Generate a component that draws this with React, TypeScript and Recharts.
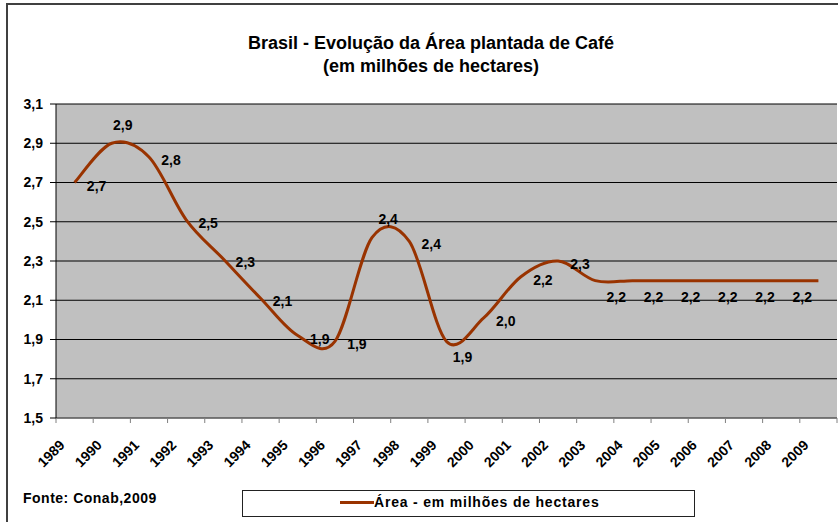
import { CartesianGrid, Customized, Legend, Line, LineChart, LabelList, XAxis, YAxis } from 'recharts';

const years = [
  '1989', '1990', '1991', '1992', '1993', '1994', '1995', '1996', '1997', '1998', '1999',
  '2000', '2001', '2002', '2003', '2004', '2005', '2006', '2007', '2008', '2009',
];
const area = [
  2.7, 2.9, 2.83, 2.51, 2.31, 2.11, 1.92, 1.89, 2.42, 2.4, 1.89,
  2.01, 2.22, 2.3, 2.2, 2.2, 2.2, 2.2, 2.2, 2.2, 2.2,
];
const yTicks = [1.5, 1.7, 1.9, 2.1, 2.3, 2.5, 2.7, 2.9, 3.1];

// where each data label sits relative to its point
const labelPlace = [
  'right', 'above', 'right', 'right', 'right', 'right', 'right', 'right', 'above', 'right', 'below',
  'right', 'right', 'right', 'below', 'below', 'below', 'below', 'below', 'below', 'none',
];

// points sit in the middle of each category slot (excel style)
const data = years.map((y, i) => ({ pos: i + 0.5, year: y, area: area[i] }));
const xTicks = [...years.map((_, i) => i), years.length];

const W = 838;
const H = 522;
const PLOT_LEFT = 56;
const PLOT_RIGHT = 1;
const BAND = (W - PLOT_LEFT - PLOT_RIGHT) / years.length;

const FONT = '"Liberation Sans", Arial, sans-serif';
const LINE_COLOR = '#993300';
const fmt = (v: number) => v.toFixed(1).replace('.', ',');

// excel-like smoothed line (catmull-rom)
function smoothCurve(context: any) {
  let pts: number[][] = [];
  return {
    areaStart() {},
    areaEnd() {},
    lineStart() {
      pts = [];
    },
    point(x: number, y: number) {
      pts.push([+x, +y]);
    },
    lineEnd() {
      if (!pts.length) return;
      context.moveTo(pts[0][0], pts[0][1]);
      for (let i = 0; i < pts.length - 1; i++) {
        const p0 = pts[i - 1] || pts[i];
        const p1 = pts[i];
        const p2 = pts[i + 1];
        const p3 = pts[i + 2] || p2;
        context.bezierCurveTo(
          p1[0] + (p2[0] - p0[0]) / 6,
          p1[1] + (p2[1] - p0[1]) / 6,
          p2[0] - (p3[0] - p1[0]) / 6,
          p2[1] - (p3[1] - p1[1]) / 6,
          p2[0],
          p2[1]
        );
      }
    },
  };
}

const renderLabel = (props: any) => {
  const { x, y, value, index } = props;
  const place = labelPlace[index];
  if (place === 'none') return null;
  let dx = 22;
  let dy = 3;
  if (place === 'above') {
    dx = index === 1 ? 11 : 16;
    dy = -18;
  } else if (place === 'below') {
    dx = index === 10 ? 16 : 21;
    dy = 16;
  }
  return (
    <text
      x={x + dx}
      y={y + dy}
      textAnchor="middle"
      dominantBaseline="central"
      fontFamily={FONT}
      fontWeight="bold"
      fontSize={14}
      fill="#000"
    >
      {fmt(value)}
    </text>
  );
};

const XTick = (props: any) => {
  const { x, y, payload } = props;
  const label = years[payload.value];
  if (!label) return null;
  const ax = x + BAND / 2 - 9;
  const ay = y + 21;
  return (
    <text
      x={ax}
      y={ay}
      transform={`rotate(-45 ${ax} ${ay})`}
      textAnchor="end"
      fontFamily={FONT}
      fontWeight="bold"
      fontSize={14}
      fill="#000"
    >
      {label}
    </text>
  );
};

const renderLegend = () => (
  <div
    style={{
      boxSizing: 'border-box',
      width: 453,
      height: 27,
      border: '1px solid #222',
      background: '#fff',
      position: 'relative',
      fontFamily: FONT,
      fontWeight: 'bold',
      fontSize: 14,
    }}
  >
    <span
      style={{ position: 'absolute', left: 97, top: 10, width: 34, height: 3, background: LINE_COLOR }}
    />
    <span style={{ position: 'absolute', left: 131, top: 3, whiteSpace: 'nowrap', letterSpacing: 0.8 }}>
      Área - em milhões de hectares
    </span>
  </div>
);

const Decorations = () => (
  <g fontFamily={FONT} fontWeight="bold" fill="#000">
    <rect x={7} y={4} width={900} height={600} fill="none" stroke="#404040" strokeWidth={2} />
    <text x={431} y={49} textAnchor="middle" fontSize={18}>
      Brasil - Evolução da Área plantada de Café
    </text>
    <text x={431} y={72} textAnchor="middle" fontSize={18}>
      (em milhões de hectares)
    </text>
    <text x={23} y={503} fontSize={14} letterSpacing={0.5}>
      Fonte: Conab,2009
    </text>
  </g>
);

export default function App() {
  return (
    <div style={{ position: 'absolute', left: 0, top: 0, background: '#fff' }}>
      <LineChart
        width={W}
        height={H}
        data={data}
        margin={{ top: 104, right: PLOT_RIGHT, left: 7, bottom: 0 }}
      >
        <Customized component={<Decorations />} />
        <CartesianGrid horizontal vertical={false} stroke="#000" fill="#C0C0C0" fillOpacity={1} />
        <XAxis
          type="number"
          dataKey="pos"
          domain={[0, years.length]}
          ticks={xTicks}
          interval={0}
          height={77}
          tickSize={5}
          stroke="#808080"
          tick={<XTick />}
        />
        <YAxis
          width={49}
          domain={[1.5, 3.1]}
          ticks={yTicks}
          tickSize={6}
          tickMargin={7}
          stroke="#000"
          tickFormatter={fmt}
          tick={{ fontFamily: FONT, fontWeight: 'bold', fontSize: 14, fill: '#000' }}
        />
        <Line
          dataKey="area"
          type={smoothCurve as any}
          stroke={LINE_COLOR}
          strokeWidth={3}
          dot={false}
          isAnimationActive={false}
        >
          <LabelList dataKey="area" content={renderLabel} />
        </Line>
        <Legend
          verticalAlign="bottom"
          content={renderLegend}
          wrapperStyle={{ left: 242, top: 490, bottom: 'auto', width: 453, height: 27 }}
        />
      </LineChart>
    </div>
  );
}
